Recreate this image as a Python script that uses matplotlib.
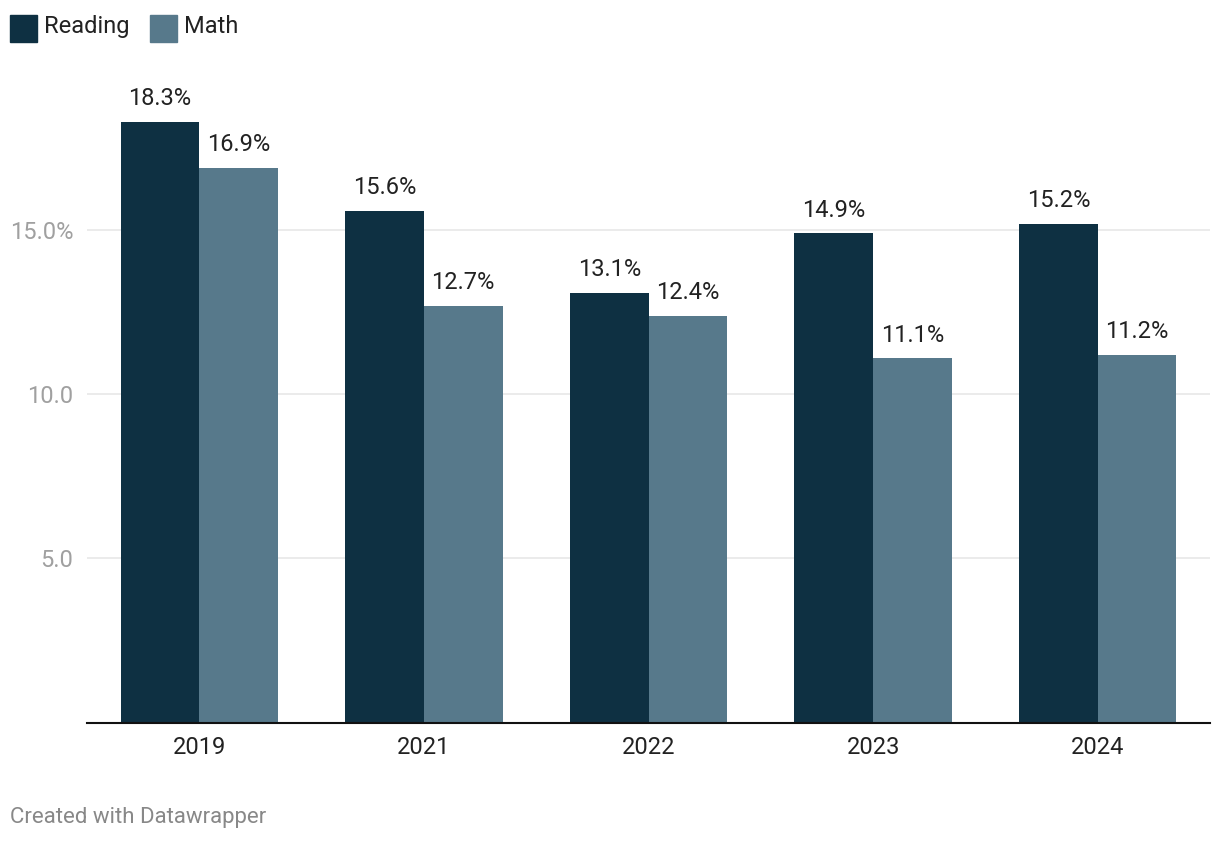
import numpy as np
import matplotlib

matplotlib.use('Agg')
import matplotlib.pyplot as plt
from matplotlib.patches import Rectangle

plt.rcParams['font.family'] = ['Roboto', 'DejaVu Sans']

# 데이터
years = ['2019', '2021', '2022', '2023', '2024']
reading = [18.3, 15.6, 13.1, 14.9, 15.2]
math_ = [16.9, 12.7, 12.4, 11.1, 11.2]
yticks = [5, 10, 15]
ytick_labels = ['5.0', '10.0', '15.0%']

C_READ = '#0e3042'
C_MATH = '#57798b'
W, H = 1220, 844

fig = plt.figure(figsize=(W / 100, H / 100), dpi=100)
ax = fig.add_axes([87 / W, (H - 722.5) / H, (1210 - 87) / W, (722.5 - 82.5) / H])

x = np.arange(len(years))
bw = 0.35
b1 = ax.bar(x - bw / 2, reading, bw, color=C_READ, zorder=3)
b2 = ax.bar(x + bw / 2, math_, bw, color=C_MATH, zorder=3)

for bars, vals in [(b1, reading), (b2, math_)]:
    for b, v in zip(bars, vals):
        ax.annotate(f'{v:.1f}%', (b.get_x() + b.get_width() / 2, v),
                    xytext=(0, 16.5), textcoords='offset points',
                    ha='center', va='center', fontsize=17, color='#222222')

ax.set_xlim(-0.5, len(years) - 0.5)
ax.set_ylim(0, 19.5)
ax.set_xticks(x)
ax.set_xticklabels(years, fontsize=17, color='#222222')
ax.set_yticks(yticks)
ax.set_yticklabels(ytick_labels, fontsize=17, color='#a0a0a0')
ax.tick_params(axis='x', length=0, pad=10)
ax.tick_params(axis='y', length=0, pad=10)
ax.yaxis.grid(True, color='#e5e5e5', linewidth=1.1, zorder=0)
for s in ['top', 'right', 'left']:
    ax.spines[s].set_visible(False)
ax.spines['bottom'].set_color('#111111')
ax.spines['bottom'].set_linewidth(1.5)
ax.spines['bottom'].set_zorder(4)

# 범례
for px, col, lab, tx in [(10, C_READ, 'Reading', 44), (150, C_MATH, 'Math', 184)]:
    fig.add_artist(Rectangle((px / W, (H - 42) / H), 27 / W, 27 / H,
                             transform=fig.transFigure, color=col))
    fig.text(tx / W, (H - 26.5) / H, lab, fontsize=17, color='#222222',
             ha='left', va='center')

fig.text(10 / W, (H - 818) / H, 'Created with Datawrapper', fontsize=16,
         color='#888888', ha='left', va='center')

fig.savefig('out.png', dpi=100)
